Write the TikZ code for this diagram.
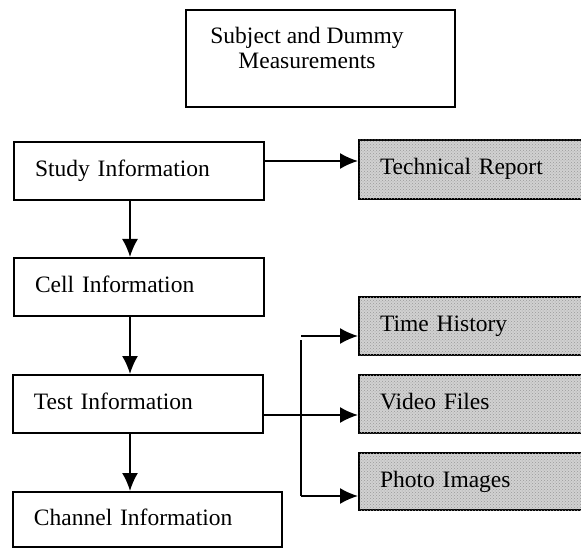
\documentclass[tikz,border=0pt]{standalone}
\usepackage{fontspec}
\setmainfont{Liberation Serif}
\usepackage{tikz}
\usetikzlibrary{arrows.meta,calc,patterns}

\tikzset{box/.style={draw,line width=2pt,rectangle,inner xsep=21pt,inner ysep=0pt,
            align=left,text height=16pt,text depth=5pt,minimum height=58pt},
         shade/.style={box,fill=black!18,postaction={pattern=crosshatch dots,pattern color=black!40}},
         arr/.style={line width=1.8pt,-{Latex[length=18pt,width=16pt]}}}

\begin{document}
\begin{tikzpicture}[x=1pt,y=-1pt,font=\fontsize{23.5}{25}\selectfont]
          	\useasboundingbox (0,0) rectangle (581,548);
            \clip (0,0) rectangle (581,548);
            % title
            \node[draw,line width=2pt,minimum width=269pt,minimum height=97pt] (titlebox) at (320.5,58.5) {};
            \node[align=center] (title) at (307,47.5) {Subject and Dummy\\Measurements};
            % left column
            \node[box,text width=208pt] (study) at (139,171) {Study Information};
            \node[box,text width=208pt] (cell) at (139,287) {Cell Information};
            \node[box,text width=208pt] (test) at (138,404) {Test Information};
            \node[box,text width=227pt,minimum height=55pt] (chan) at (147.5,519.5) {Channel Information};
            % right column
            \node[shade,text width=199pt,minimum height=59pt] (tech) at (479.5,169.5) {Technical Report};
            \node[shade,text width=199pt] (time) at (479.5,326) {Time History};
            \node[shade,text width=199pt] (video) at (479.5,404) {Video Files};
            \node[shade,text width=199pt,minimum height=57pt] (photo) at (479.5,481.5) {Photo Images};
            % arrows
             \coordinate (sa) at ($(study.east)+(0,-10)$);
             \coordinate (s1) at ($(study.south)+(-9,0)$);
             \coordinate (s2) at ($(cell.south)+(-9,0)$);
             \coordinate (s3) at ($(test.south)+(-8,0)$);
             \coordinate (ta) at ($(test.east)+(0,11)$);
             \draw[arr] (sa) -- (sa -| tech.west);
             \draw[arr] (s1) -- (s1 |- cell.north);
             \draw[arr] (s2) -- (s2 |- test.north);
             \draw[arr] (s3) -- (s3 |- chan.north);
             \draw[arr] (ta) -- (ta -| video.west);
             \coordinate (split) at (301,336);
             \coordinate (tarr) at ($(time.west)+(0,10)$);
             \coordinate (parr) at ($(photo.west)+(0,14.5)$);
             \draw[arr] (split) -- (split -| tarr);
             \draw[line width=1.8pt] ($(split)+(0,4)$) -- (split |- parr);
             \draw[arr] (split |- parr) -- (parr);
      \end{tikzpicture}
\end{document}
